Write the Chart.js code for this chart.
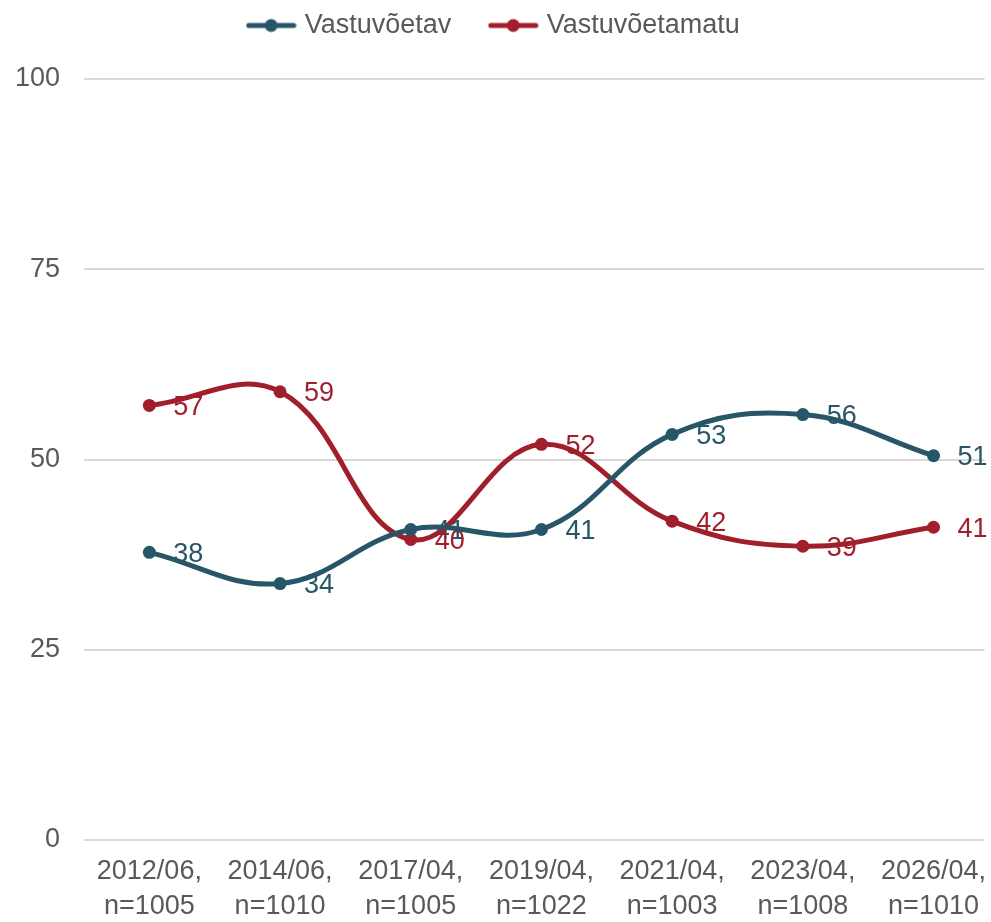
<!DOCTYPE html>
<html>
<head>
<meta charset="utf-8">
<script src="https://cdn.jsdelivr.net/npm/chart.js@4/dist/chart.umd.min.js"></script>
<style>
  html, body { margin: 0; padding: 0; background: #fff; }
  #wrap { width: 991px; height: 922px; }
</style>
</head>
<body>
<div id="wrap"><canvas id="trendChart" width="991" height="922"></canvas></div>
<script>
const categories = [
    ["2012/06,", "n=1005"],
    ["2014/06,", "n=1010"],
    ["2017/04,", "n=1005"],
    ["2019/04,", "n=1022"],
    ["2021/04,", "n=1003"],
    ["2023/04,", "n=1008"],
    ["2026/04,", "n=1010"]
];
const acceptable = [37.8, 33.7, 40.8, 40.8, 53.3, 55.9, 50.5];
const notAcceptable = [57.1, 58.9, 39.5, 52.0, 41.9, 38.6, 41.1];
const yTicks = [0, 25, 50, 75, 100];

const tealColor = "#275669";
const redColor = "#A01F2B";
const textColor = "#595959";
const fontFamily = "'Liberation Sans', Arial, sans-serif";

function legendMarker(color) {
    let c = document.createElement("canvas");
    c.width = 51;
    c.height = 16;
    let g = c.getContext("2d");
    g.strokeStyle = color;
    g.lineWidth = 5;
    g.lineCap = "round";
    g.beginPath();
    g.moveTo(3, 8);
    g.lineTo(48, 8);
    g.stroke();
    g.fillStyle = color;
    g.beginPath();
    g.arc(25.5, 8, 6.5, 0, Math.PI * 2);
    g.fill();
    return c;
}

function toPoints(values) {
    return values.map((v, i) => ({ x: i, y: v }));
}

// value labels to the right of each point, drawn under the lines
const valueLabels = {
    id: "valueLabels",
    beforeDatasetsDraw(chart) {
        const ctx = chart.ctx;
        ctx.save();
        ctx.font = "27px " + fontFamily;
        ctx.textAlign = "left";
        ctx.textBaseline = "middle";
        chart.data.datasets.forEach((ds, i) => {
            const meta = chart.getDatasetMeta(i);
            ctx.fillStyle = ds.borderColor;
            meta.data.forEach((pt, j) => {
                ctx.fillText(Math.round(ds.data[j].y), pt.x + 24, pt.y + 2);
            });
        });
        ctx.restore();
    }
};

// legend: wide gap between items, but keep it near the top
const legendSpace = {
    id: "legendSpace",
    afterInit(chart) {
        const fit = chart.legend.fit;
        chart.legend.fit = function () {
            fit.bind(chart.legend)();
            this.height = 79;
        };
    },
    afterLayout(chart) {
        chart.legend.top = -30;
    }
};

const ctx = document.getElementById("trendChart").getContext("2d");
new Chart(ctx, {
    type: "line",
    data: {
        datasets: [
            {
                label: "Vastuvõetav",
                data: toPoints(acceptable),
                borderColor: tealColor,
                backgroundColor: tealColor,
                borderWidth: 5,
                pointRadius: 6.5,
                pointHoverRadius: 6.5,
                pointBackgroundColor: tealColor,
                pointBorderWidth: 0,
                tension: 0.4,
                fill: false
            },
            {
                label: "Vastuvõetamatu",
                data: toPoints(notAcceptable),
                borderColor: redColor,
                backgroundColor: redColor,
                borderWidth: 5,
                pointRadius: 6.5,
                pointHoverRadius: 6.5,
                pointBackgroundColor: redColor,
                pointBorderWidth: 0,
                tension: 0.4,
                fill: false
            }
        ]
    },
    options: {
        responsive: false,
        animation: false,
        layout: { padding: { left: 0, right: 0, top: 0, bottom: 0 } },
        plugins: {
            legend: {
                display: true,
                position: "top",
                labels: {
                    usePointStyle: true,
                    pointStyleWidth: 40,
                    color: textColor,
                    font: { size: 27, family: fontFamily },
                    padding: 42,
                    generateLabels(chart) {
                        return chart.data.datasets.map((ds, i) => ({
                            text: ds.label,
                            fontColor: textColor,
                            pointStyle: legendMarker(ds.borderColor),
                            strokeStyle: ds.borderColor,
                            fillStyle: ds.borderColor,
                            lineWidth: 0,
                            hidden: false,
                            datasetIndex: i
                        }));
                    }
                }
            },
            tooltip: { enabled: false }
        },
        scales: {
            x: {
                type: "linear",
                min: -0.5,
                max: 6.39,
                afterBuildTicks(scale) {
                    scale.ticks = categories.map((c, i) => ({ value: i }));
                },
                afterFit(scale) {
                    scale.paddingLeft = 0;
                    scale.paddingRight = 0;
                    scale.height = 82;
                },
                grid: { display: false, drawTicks: false },
                border: { display: false },
                ticks: {
                    color: textColor,
                    font: { size: 27, family: fontFamily, lineHeight: 1.3 },
                    padding: 14,
                    maxRotation: 0,
                    autoSkip: false,
                    callback: (value) => categories[value]
                }
            },
            y: {
                min: 0,
                max: 100,
                afterBuildTicks(scale) {
                    scale.ticks = yTicks.map(v => ({ value: v }));
                },
                afterFit(scale) {
                    scale.width = 84;
                },
                grid: { color: "#d9d9d9", lineWidth: 2, drawTicks: false },
                border: { display: false },
                ticks: {
                    color: textColor,
                    font: { size: 27, family: fontFamily },
                    padding: 24
                }
            }
        }
    },
    plugins: [valueLabels, legendSpace]
});
</script>
</body>
</html>
